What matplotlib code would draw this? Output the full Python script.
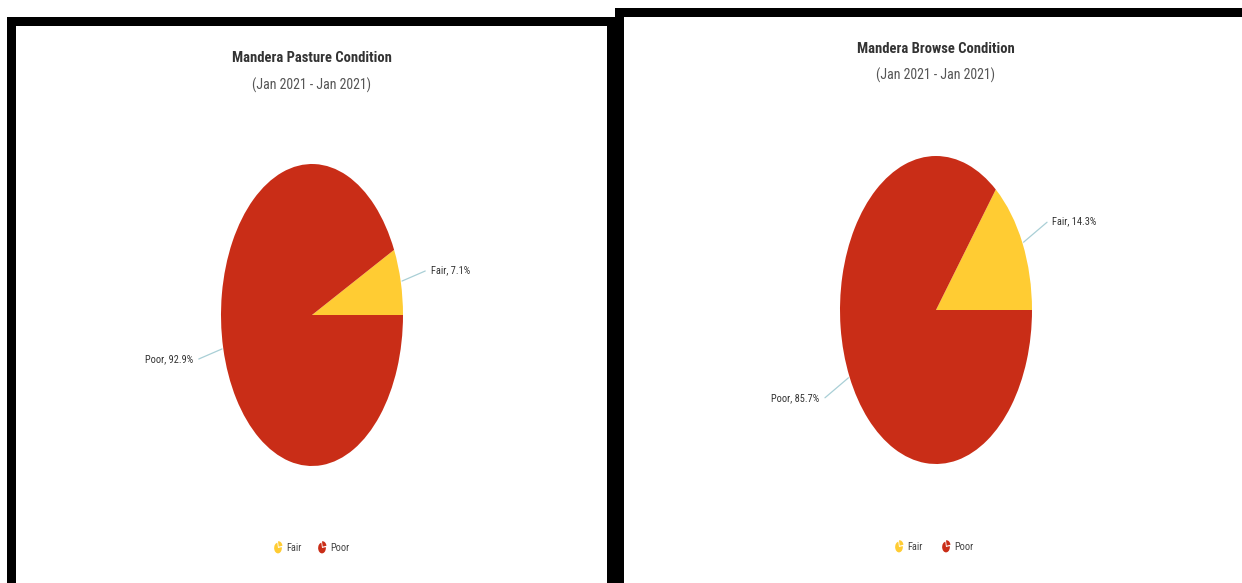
import matplotlib
matplotlib.use("Agg")
import matplotlib.pyplot as plt
from matplotlib.patches import Rectangle
import numpy as np

W, H = 1242, 583

# condition shares per chart (percent)
classes = ["Fair", "Poor"]
pasture_pct = [7.1, 92.9]
browse_pct = [14.3, 85.7]
class_colors = ["#FFCC33", "#C92D17"]

titles = ["Mandera Pasture Condition", "Mandera Browse Condition"]
subtitle = "(Jan 2021 - Jan 2021)"

plt.rcParams['font.family'] = ['Roboto Condensed', 'DejaVu Sans']

fig = plt.figure(figsize=(W / 100, H / 100), dpi=100)
fig.patch.set_facecolor("white")


def fx(x):
    return x / W


def fy(y):
    return 1 - y / H


def black_box(x0, y0, x1, y1):
    fig.patches.append(Rectangle((fx(x0), fy(y1)), (x1 - x0) / W, (y1 - y0) / H,
                                 transform=fig.transFigure, facecolor="black",
                                 edgecolor="none", zorder=5))


# frames round the two panels
black_box(7, 17, 16, 583)
black_box(7, 17, 616, 26)
black_box(607, 17, 616, 583)
black_box(615, 8, 1242, 17)
black_box(615, 8, 624, 583)


def draw_pie(cx, cy, rx, ry, values):
    ax = fig.add_axes([fx(cx - rx), fy(cy + ry), 2 * rx / W, 2 * ry / H])
    wedges, _ = ax.pie(values, colors=class_colors, startangle=0, counterclock=True,
                       radius=1, wedgeprops=dict(linewidth=0))
    ax.set_aspect("auto")
    ax.set_xlim(-1, 1)
    ax.set_ylim(-1, 1)
    ax.axis("off")
    for w, name, v in zip(wedges, classes, values):
        mid = np.deg2rad((w.theta1 + w.theta2) / 2)
        c, s = np.cos(mid), np.sin(mid)
        side = 1 if c >= 0 else -1
        dx, dy = 30 * side, 50 * s
        bend = np.degrees(np.arctan2(dy, dx * 0.85))
        ax.annotate("{}, {}%".format(name, v), xy=(c, s),
                    xytext=(dx, dy), textcoords="offset pixels",
                    ha="left" if side > 0 else "right", va="center",
                    fontsize=7.5, color="#333333", annotation_clip=False,
                    arrowprops=dict(arrowstyle="-", color="#A9CFD6", lw=0.9,
                                    shrinkA=2, shrinkB=1,
                                    connectionstyle="angle,angleA=0,angleB={:.1f},rad=0".format(bend)))


def draw_legend(x0, y, gap):
    x = x0
    for name, col in zip(classes, class_colors):
        iax = fig.add_axes([fx(x - 5), fy(y + 7), 10 / W, 14 / H])
        iax.pie([1, 3], colors=[col, col], startangle=10, explode=[0.3, 0],
                wedgeprops=dict(linewidth=0))
        iax.set_aspect("auto")
        iax.set_xlim(-1.3, 1.3)
        iax.set_ylim(-1.3, 1.3)
        iax.axis("off")
        fig.text(fx(x + 8), fy(y), name, ha="left", va="center",
                 fontsize=7.5, color="#444444")
        x += gap[name]


# left panel
fig.text(fx(311.5), fy(58), titles[0], ha="center", va="center",
         fontsize=10.5, fontweight="bold", color="#333333")
fig.text(fx(311.5), fy(85), subtitle, ha="center", va="center",
         fontsize=10, color="#555555")
draw_pie(312, 315, 91, 151, pasture_pct)
draw_legend(278, 548, {"Fair": 44, "Poor": 0})

# right panel
fig.text(fx(935.5), fy(49), titles[1], ha="center", va="center",
         fontsize=10.5, fontweight="bold", color="#333333")
fig.text(fx(935.5), fy(75), subtitle, ha="center", va="center",
         fontsize=10, color="#555555")
draw_pie(936, 310, 96, 154, browse_pct)
draw_legend(899, 547, {"Fair": 47, "Poor": 0})

fig.savefig("out.png", dpi=100, facecolor="white")
